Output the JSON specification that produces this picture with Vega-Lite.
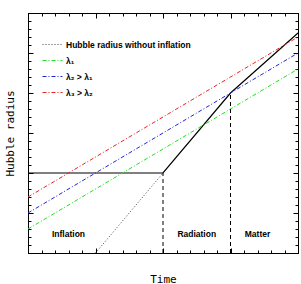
{
  "$schema": "https://vega.github.io/schema/vega-lite/v6.json",
  "width": 270,
  "height": 240,
  "autosize": {"type": "none"},
  "padding": {"left": 28, "top": 13, "right": 3, "bottom": 31},
  "background": "white",
  "config": {
    "view": {"stroke": null},
    "axis": {
      "labels": false,
      "grid": false,
      "domainColor": "black",
      "domainWidth": 1,
      "tickColor": "black",
      "tickWidth": 1,
      "titleFont": "DejaVu Sans Mono",
      "titleFontSize": 11,
      "titleFontWeight": "normal",
      "titleColor": "black"
    }
  },
  "datasets": {
    "main": [
      {"x": 0, "y": 10},
      {"x": 10, "y": 10},
      {"x": 15, "y": 20},
      {"x": 20, "y": 27.5}
    ],
    "series": [
      {"series": "Hubble radius without inflation", "x": 5, "y": 0},
      {"series": "Hubble radius without inflation", "x": 10, "y": 10},
      {"series": "λ₁", "x": 0, "y": 3},
      {"series": "λ₁", "x": 20, "y": 23},
      {"series": "λ₂ > λ₁", "x": 0, "y": 5},
      {"series": "λ₂ > λ₁", "x": 20, "y": 25},
      {"series": "λ₃ > λ₂", "x": 0, "y": 7},
      {"series": "λ₃ > λ₂", "x": 20, "y": 27}
    ],
    "eras": [
      {"x": 10, "y": 0, "y2": 10},
      {"x": 15, "y": 0, "y2": 20}
    ],
    "labels": [
      {"label": "Inflation", "x": 3, "y": 2.4},
      {"label": "Radiation", "x": 12.5, "y": 2.4},
      {"label": "Matter", "x": 17, "y": 2.4}
    ]
  },
  "layer": [
    {
      "data": {"name": "main"},
      "mark": {"type": "line", "color": "black", "strokeWidth": 1.2},
      "encoding": {
        "x": {"field": "x", "type": "quantitative", "scale": {"domain": [0, 20], "nice": false, "zero": false},
          "axis": {"orient": "bottom", "values": [0, 5, 10, 15, 20], "tickSize": -5, "title": "Time", "titlePadding": 19.5}},
        "y": {"field": "y", "type": "quantitative", "scale": {"domain": [0, 30], "nice": false, "zero": false},
          "axis": {"orient": "left", "values": [0, 5, 10, 15, 20, 25, 30], "tickSize": -5, "title": "Hubble radius", "titlePadding": 12}}
      }
    },
    {
      "data": {"name": "series"},
      "mark": {"type": "line", "strokeWidth": 1},
      "encoding": {
        "x": {"field": "x", "type": "quantitative",
          "axis": {"orient": "top", "values": [0, 5, 10, 15, 20], "tickSize": -5, "title": null}},
        "y": {"field": "y", "type": "quantitative",
          "axis": {"orient": "right", "values": [0, 5, 10, 15, 20, 25, 30], "tickSize": -5, "title": null}},
        "color": {"field": "series", "type": "nominal",
          "scale": {"domain": ["Hubble radius without inflation", "λ₁", "λ₂ > λ₁", "λ₃ > λ₂"], "range": ["#444444", "#22dd22", "#2222dd", "#ee2222"]},
          "legend": {"title": null, "orient": "none", "legendX": 14, "legendY": 21, "symbolType": "stroke", "symbolSize": 400, "symbolStrokeWidth": 1, "labelFont": "Liberation Sans", "labelFontSize": 8.5, "labelFontWeight": "bold", "labelColor": "black", "labelOffset": 3, "rowPadding": 1, "labelLimit": 300}},
        "strokeDash": {"field": "series", "type": "nominal",
          "scale": {"domain": ["Hubble radius without inflation", "λ₁", "λ₂ > λ₁", "λ₃ > λ₂"], "range": [[1, 2], [4, 2, 1, 2], [4, 2, 1, 2], [4, 2, 1, 2]]},
          "legend": {"title": null, "orient": "none", "legendX": 14, "legendY": 21, "symbolType": "stroke", "symbolSize": 400, "symbolStrokeWidth": 1, "labelFont": "Liberation Sans", "labelFontSize": 8.5, "labelFontWeight": "bold", "labelColor": "black", "labelOffset": 3, "rowPadding": 1, "labelLimit": 300}}
      }
    },
    {
      "data": {"name": "eras"},
      "mark": {"type": "rule", "color": "black", "strokeWidth": 1, "strokeDash": [4, 3]},
      "encoding": {
        "x": {"field": "x", "type": "quantitative",
          "axis": {"orient": "bottom", "values": [0,1,2,3,4,5,6,7,8,9,10,11,12,13,14,15,16,17,18,19,20], "tickSize": -3, "title": null}},
        "y": {"field": "y", "type": "quantitative",
          "axis": {"orient": "left", "values": [0,1,2,3,4,5,6,7,8,9,10,11,12,13,14,15,16,17,18,19,20,21,22,23,24,25,26,27,28,29,30], "tickSize": -3, "title": null}},
        "y2": {"field": "y2"}
      }
    },
    {
      "data": {"name": "labels"},
      "mark": {"type": "text", "font": "Liberation Sans", "fontSize": 8.5, "fontWeight": "bold", "color": "black"},
      "encoding": {
        "x": {"field": "x", "type": "quantitative",
          "axis": {"orient": "top", "values": [0,1,2,3,4,5,6,7,8,9,10,11,12,13,14,15,16,17,18,19,20], "tickSize": -3, "title": null}},
        "y": {"field": "y", "type": "quantitative",
          "axis": {"orient": "right", "values": [0,1,2,3,4,5,6,7,8,9,10,11,12,13,14,15,16,17,18,19,20,21,22,23,24,25,26,27,28,29,30], "tickSize": -3, "title": null}},
        "text": {"field": "label", "type": "nominal"}
      }
    }
  ],
  "resolve": {"scale": {"x": "shared", "y": "shared"}, "axis": {"x": "independent", "y": "independent"}}
}
